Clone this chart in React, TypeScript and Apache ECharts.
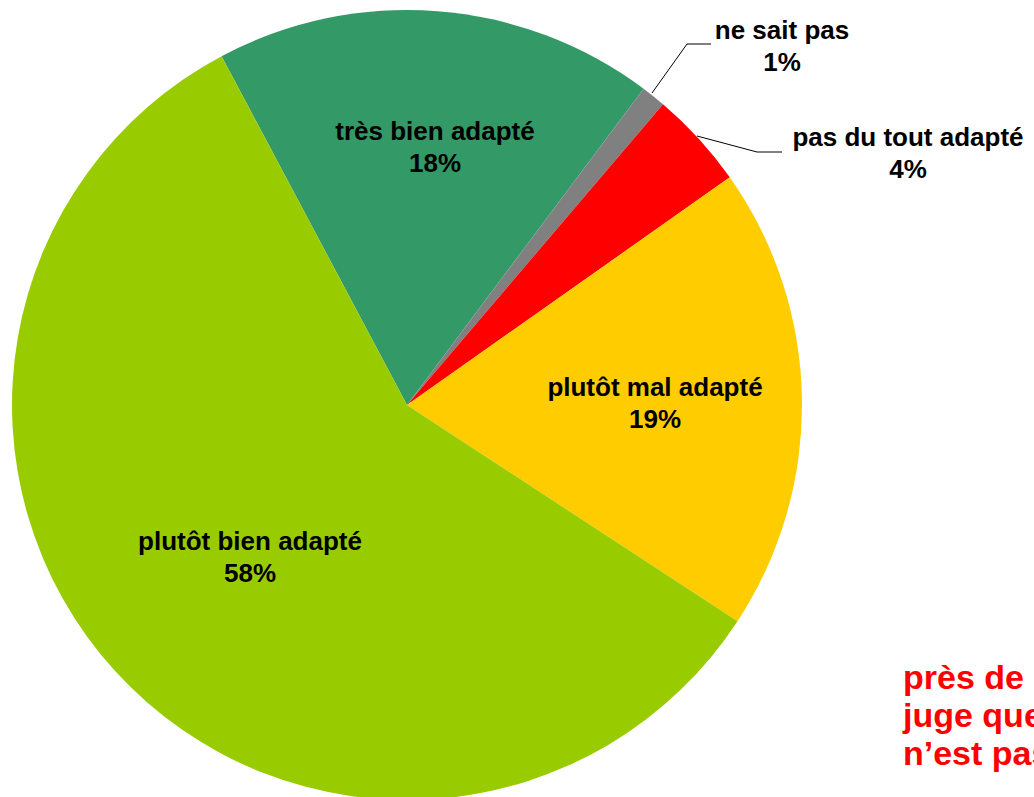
import React, { useEffect, useRef } from "react";
import * as echarts from "echarts";

const categories = ["très bien adapté", "ne sait pas", "pas du tout adapté", "plutôt mal adapté", "plutôt bien adapté"];
const values = [18, 1, 4, 19, 58];
const colors = ["#339966", "#808080", "#FF0000", "#FFCC00", "#99CC00"];
const noteLines = ["près de 23 %", "juge que ce dispositif", "n’est pas adapté"];

// label placement (style only)
const labelPos: [number, number][] = [
  [435, 147],
  [782, 46],
  [908, 153],
  [655, 403],
  [250, 557],
];
const leaderLines: ([number, number][] | null)[] = [
  null,
  [[652, 93], [687, 44], [711, 44]],
  [[697, 136], [757, 152], [782, 152]],
  null,
  null,
];

export default function App() {
  const ref = useRef<HTMLDivElement>(null);
  useEffect(() => {
    if (!ref.current) return;
    const chart = echarts.init(ref.current, undefined, { renderer: "svg" });
    const font = "Liberation Sans";
    chart.setOption({
      animation: false,
      backgroundColor: "#ffffff",
      series: [
        {
          type: "pie",
          center: [407, 405],
          radius: 395,
          startAngle: 118,
          clockwise: true,
          avoidLabelOverlap: false,
          silent: true,
          itemStyle: { borderWidth: 0 },
          data: categories.map((c, i) => ({
            name: c,
            value: values[i],
            itemStyle: { color: colors[i] },
            label: { position: leaderLines[i] ? "outside" : "inside" },
            labelLine: { show: !!leaderLines[i], lineStyle: { color: "#000", width: 1 } },
          })),
          label: {
            show: true,
            formatter: (p: any) => `${p.name}\n${p.value}%`,
            fontFamily: font,
            fontWeight: "bold",
            fontSize: 26,
            lineHeight: 32,
            color: "#000",
            align: "center",
          },
          labelLayout: (params: any) => {
            const i = params.dataIndex;
            const res: any = {
              x: labelPos[i][0],
              y: labelPos[i][1],
              align: "center",
              verticalAlign: "middle",
            };
            if (leaderLines[i]) res.labelLinePoints = leaderLines[i];
            return res;
          },
        },
      ],
      graphic: [
        {
          type: "text",
          left: 903,
          top: 658,
          style: {
            text: noteLines.join("\n"),
            font: `bold 34px "${font}"`,
            lineHeight: 38,
            fill: "#FF0000",
          },
        },
      ],
    });
    return () => chart.dispose();
  }, []);
  return (
    <div
      ref={ref}
      style={{ position: "fixed", left: 0, top: 0, width: 1034, height: 797, overflow: "hidden" }}
    />
  );
}
